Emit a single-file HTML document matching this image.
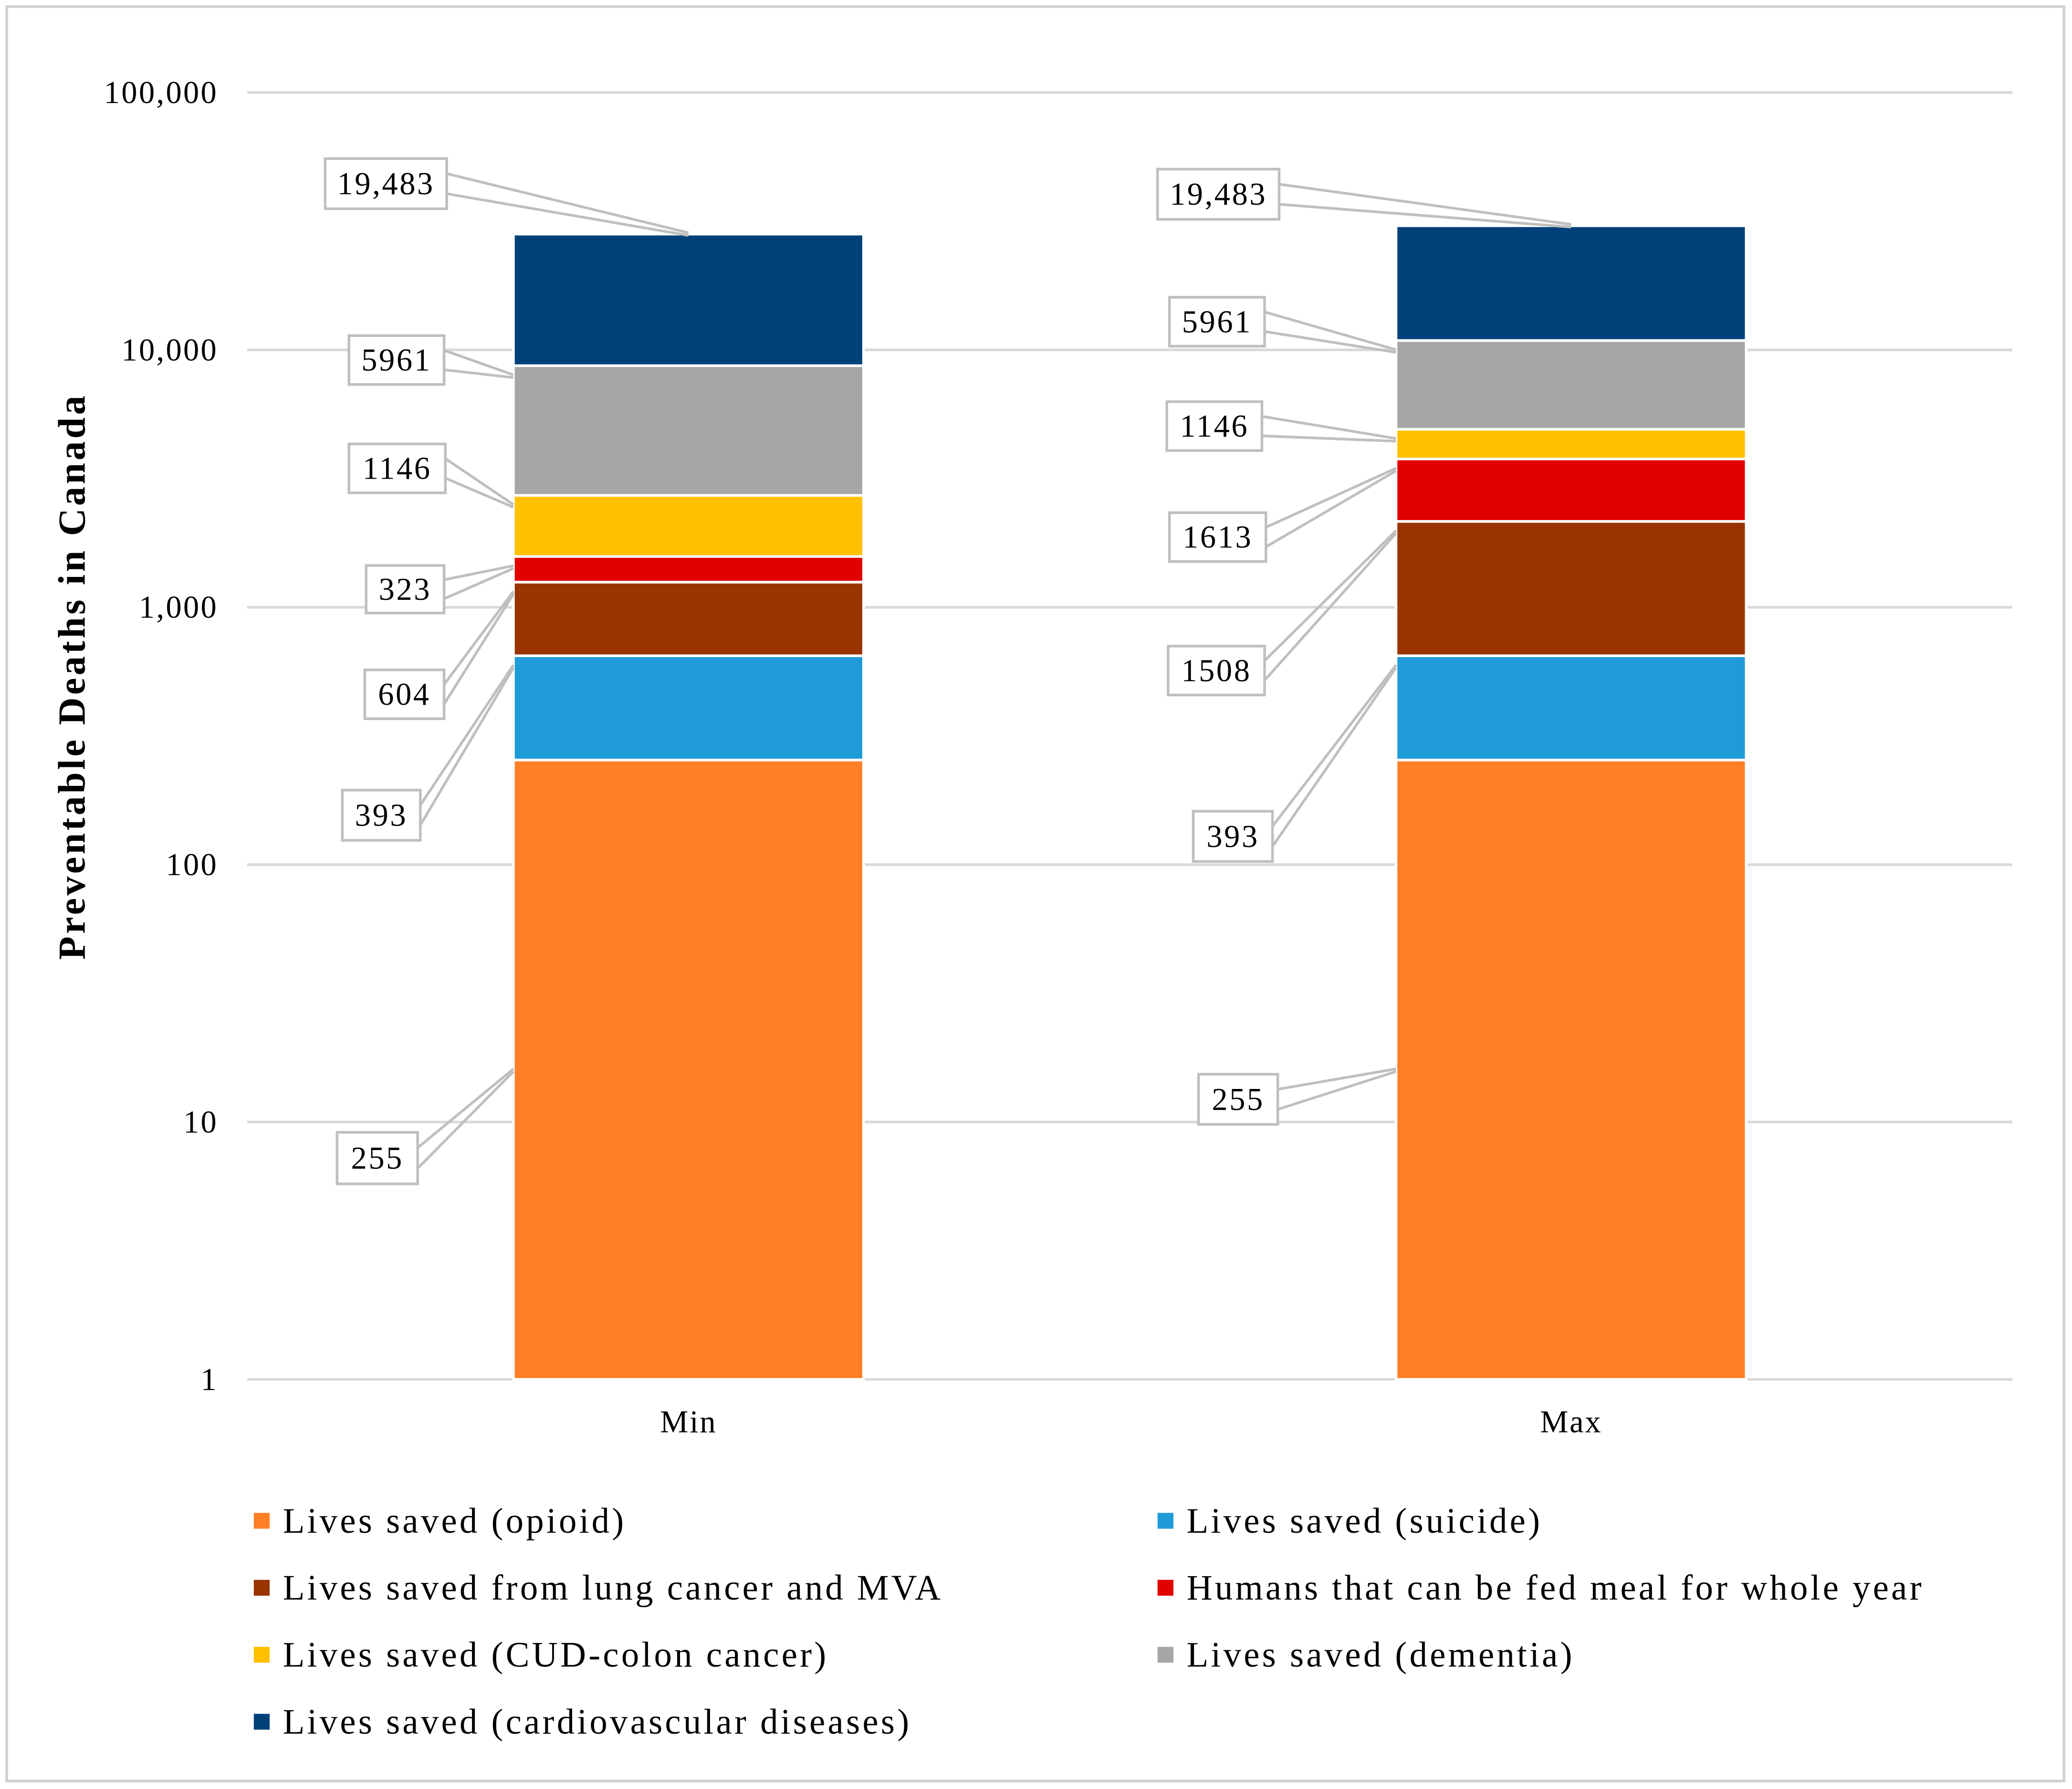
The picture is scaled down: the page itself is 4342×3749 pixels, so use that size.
<!DOCTYPE html>
<html><head><meta charset="utf-8"><style>
html,body{margin:0;padding:0;background:#fff}
svg{display:block}
text{font-family:"Liberation Serif",serif;fill:#000}
</style></head><body>
<svg id="chart" width="4342" height="3749" viewBox="0 0 1568 1354" xmlns="http://www.w3.org/2000/svg">
<rect x="5" y="5" width="1557" height="1343" fill="#fff" stroke="#d0d0d0" stroke-width="2"/>
<g id="grid"></g><g id="bars"></g><g id="callouts"></g><g id="axes"></g>
<text transform="translate(64,512) rotate(-90)" text-anchor="middle" font-size="29" font-weight="bold" letter-spacing="1.9">Preventable Deaths in Canada</text>
<g id="legend"></g>
</svg>
<script>
const categories = ["Min", "Max"];
const seriesNames = ["Lives saved (opioid)", "Lives saved (suicide)", "Lives saved from lung cancer and MVA", "Humans that can be fed meal for whole year", "Lives saved (CUD-colon cancer)", "Lives saved (dementia)", "Lives saved (cardiovascular diseases)"];
const seriesColors = ["#FF7F27", "#1F9BD7", "#993300", "#E00000", "#FFC000", "#A6A6A6", "#00417A"];
const minValues = [255, 393, 604, 323, 1146, 5961, 19483];
const maxValues = [255, 393, 1508, 1613, 1146, 5961, 19483];
const valueLabels = [["255","393","604","323","1146","5961","19,483"],["255","393","1508","1613","1146","5961","19,483"]];
const tickValues = [1, 10, 100, 1000, 10000, 100000];
const tickLabels = ["1", "10", "100", "1,000", "10,000", "100,000"];

const NS = "http://www.w3.org/2000/svg";
const plotL = 187, plotR = 1523, y0 = 1044, decade = 194.8;
function yScale(v){ return y0 - Math.log10(v) * decade; }
const bandW = (plotR - plotL) / categories.length;
function xCenter(i){ return plotL + bandW * (i + 0.5); }
const barW = 265;
function el(tag, attrs, parent){ const e=document.createElementNS(NS,tag); for(const k in attrs) e.setAttribute(k,attrs[k]); parent.appendChild(e); return e; }

const grid = document.getElementById('grid'), axes = document.getElementById('axes');
tickValues.forEach((t,i)=>{
  const y = yScale(t);
  const g = el('line',{x1:plotL,x2:plotR,y1:y,y2:y,stroke:'#d9d9d9','stroke-width':2},grid);
  
  
  const tx = el('text',{x:165,y:y+8,'text-anchor':'end','font-size':24,'letter-spacing':1.2},axes);
  tx.textContent = tickLabels[i];
  
  
});
categories.forEach((c,i)=>{
  const tx = el('text',{x:xCenter(i),y:1084,'text-anchor':'middle','font-size':24,'letter-spacing':1},axes);
  tx.textContent = c;
  
  
});

const bars = document.getElementById('bars');
const allValues = [minValues, maxValues];
const segTops = [[],[]], segBots=[[],[]];
allValues.forEach((vals,ci)=>{
  let cum = 0;
  vals.forEach((v,si)=>{
    const lo = cum; cum += v;
    const yTop = yScale(cum), yBot = lo===0 ? y0 : yScale(lo);
    segTops[ci][si]=yTop; segBots[ci][si]=yBot;
    const r = el('rect',{x:xCenter(ci)-barW/2,y:yTop,width:barW,height:yBot-yTop,fill:seriesColors[si],stroke:'#fff','stroke-width':2},bars);
    
    
  });
});

const boxes = [
 [[255,857,61,39],[259,598,59,38],[276,507,60,37],[277,428,59,36],[264,336,73,37],[264,254,72,37],[246,120,92,38]],
 [[907,813,60,38],[903,614,60,38],[884,489,73,37],[885,388,73,37],[883,304,72,37],[885,225,72,37],[876,128,92,38]]
];
const cg = document.getElementById('callouts');
boxes.forEach((bs,ci)=>{
  bs.forEach((b,si)=>{
    const [bx,by,bw,bh]=b;
    let ax, ay;
    if(si===6){ ax=xCenter(ci); ay=segTops[ci][si]; }
    else { ax=xCenter(ci)-barW/2; ay = si===0 ? 810 : segTops[ci][si] + Math.min(8,(segBots[ci][si]-segTops[ci][si])/2); }
    const ex = bx+bw;
    const l1 = el('line',{x1:ex,y1:by+bh*0.3,x2:ax,y2:ay-1,stroke:'#bfbfbf','stroke-width':2},cg);
    
    
    const l2 = el('line',{x1:ex,y1:by+bh*0.7,x2:ax,y2:ay+1,stroke:'#bfbfbf','stroke-width':2},cg);
    
    
    const r = el('rect',{x:bx,y:by,width:bw,height:bh,fill:'#fff',stroke:'#bfbfbf','stroke-width':2},cg);
    
    
    const t = el('text',{x:bx+bw/2,y:by+bh/2+8,'text-anchor':'middle','font-size':24,'letter-spacing':1.3},cg);
    t.textContent = valueLabels[ci][si];
    
    
  });
});

const lg = document.getElementById('legend');
seriesNames.forEach((n,i)=>{
  const col = i%2, row = Math.floor(i/2);
  const x = col===0 ? 192 : 876, y = 1151 + row*50.7;
  const s = el('rect',{x:x,y:y-6,width:12,height:12,fill:seriesColors[i]},lg);
  
  
  const t = el('text',{x:x+22,y:y+9,'font-size':27,'letter-spacing':1.9},lg);
  t.textContent = n;
  
  
});
</script>
</body></html>
